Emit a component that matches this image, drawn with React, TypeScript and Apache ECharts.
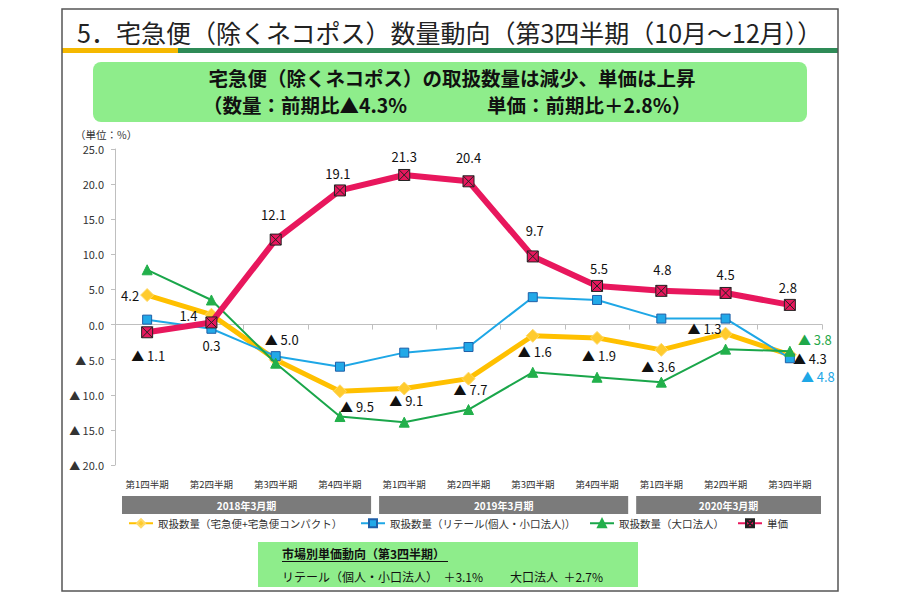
import React, { useEffect, useRef } from "react";
import * as echarts from "echarts";

const categories = [
  "第1四半期", "第2四半期", "第3四半期", "第4四半期",
  "第1四半期", "第2四半期", "第3四半期", "第4四半期",
  "第1四半期", "第2四半期", "第3四半期",
];
const fiscalGroups = ["2018年3月期", "2019年3月期", "2020年3月期"];
const groupSizes = [4, 4, 3];

const totalVolume = [4.2, 1.4, -5.0, -9.5, -9.1, -7.7, -1.6, -1.9, -3.6, -1.3, -4.3];
const retailVolume = [0.7, -0.6, -4.5, -6.0, -4.0, -3.2, 3.9, 3.5, 0.85, 0.85, -4.8];
const corporateVolume = [7.8, 3.5, -5.5, -13.1, -13.9, -12.1, -6.8, -7.5, -8.2, -3.5, -3.8];
const unitPrice = [-1.1, 0.3, 12.1, 19.1, 21.3, 20.4, 9.7, 5.5, 4.8, 4.5, 2.8];

const seriesNames = [
  "取扱数量（宅急便+宅急便コンパクト）",
  "取扱数量（リテール(個人・小口法人)）",
  "取扱数量（大口法人）",
  "単価",
];

const yTicks = { min: -20, max: 25, interval: 5 };

// label offsets (style only): [dx, dy] from the point, null = hidden
const totalLabelOffsets: (number[] | null)[] = [
  [-17, 0], [-23, 1], [6, -20], [17, 15], [2, 12], [2, 11], [2, 16], [2, 18], [-3, 17], [-21, -5], [20, 4],
];
const retailLabelOffsets: (number[] | null)[] = [null, null, null, null, null, null, null, null, null, null, [28, 18]];
const corporateLabelOffsets: (number[] | null)[] = [null, null, null, null, null, null, null, null, null, null, [25, -12]];
const priceLabelOffsets: (number[] | null)[] = [
  [1, 23], [0, 23], [-2, -25], [-2, -17], [0, -18], [0, -24], [2, -26], [2, -17], [1, -21], [0, -18], [-2, -17],
];

const FONT = '"Noto Sans CJK JP", "Noto Sans", sans-serif';
const fmt = (v: number) => (v < 0 ? `▲ ${Math.abs(v).toFixed(1)}` : v.toFixed(1));

function buildData(values: number[], offsets: (number[] | null)[], color: string) {
  return values.map((v, i) => {
    const off = offsets[i];
    return {
      value: v,
      label: off
        ? {
            show: true,
            position: "inside",
            offset: off,
            color,
            fontSize: 13,
            fontFamily: FONT,
            textBorderWidth: 0,
            formatter: () => fmt(v),
          }
        : { show: false },
    };
  });
}

const X_SYMBOL = "path://M0,0H10V10H0Z M0,0L10,10 M10,0L0,10";

export default function App() {
  const ref = useRef<HTMLDivElement>(null);
  useEffect(() => {
    if (!ref.current) return;
    const chart = echarts.init(ref.current, undefined, { renderer: "svg" });
    const gridLeft = 115;
    const gridRight = 78;
    const gridTop = 149;
    const gridBottom = 136;
    const legendText = { fontSize: 10.5, color: "#333", fontFamily: FONT };
    const legendCommon = { top: 518, itemWidth: 24, itemHeight: 10, padding: 0, itemGap: 0, textStyle: legendText };

    chart.setOption({
      animation: false,
      backgroundColor: "#ffffff",
      grid: {
        left: gridLeft, right: gridRight, top: gridTop, bottom: gridBottom,
        containLabel: false, outerBoundsMode: "none",
      },
      legend: [
        { ...legendCommon, left: 128, data: [seriesNames[0]] },
        { ...legendCommon, left: 360, data: [seriesNames[1]] },
        { ...legendCommon, left: 589, data: [seriesNames[2]] },
        { ...legendCommon, left: 737, data: [seriesNames[3]] },
      ],
      xAxis: {
        type: "category",
        data: categories,
        boundaryGap: true,
        axisLine: { show: true, onZero: true, lineStyle: { color: "#bfbfbf", width: 1 } },
        axisTick: { show: true, length: 5, lineStyle: { color: "#bfbfbf" } },
        axisLabel: { margin: 14, fontSize: 9.5, color: "#333", fontFamily: FONT, interval: 0 },
        splitLine: { show: false },
      },
      yAxis: {
        type: "value",
        min: yTicks.min,
        max: yTicks.max,
        interval: yTicks.interval,
        axisLine: { show: true, lineStyle: { color: "#bfbfbf" } },
        axisTick: { show: true, length: 4, lineStyle: { color: "#bfbfbf" } },
        axisLabel: { margin: 11, fontSize: 11, color: "#333", fontFamily: FONT, formatter: (v: number) => fmt(v) },
        splitLine: { show: false },
      },
      series: [
        {
          name: seriesNames[0],
          type: "line",
          data: buildData(totalVolume, totalLabelOffsets, "#111"),
          symbol: "diamond",
          symbolSize: 13,
          itemStyle: { color: "#ffcb2e", borderColor: "#ffd966", borderWidth: 1 },
          lineStyle: { color: "#ffc000", width: 5 },
          z: 2,
        },
        {
          name: seriesNames[1],
          type: "line",
          data: buildData(retailVolume, retailLabelOffsets, "#1ea7e6"),
          symbol: "rect",
          symbolSize: 9,
          itemStyle: { color: "#22a9e8", borderColor: "#1f5fa8", borderWidth: 1 },
          lineStyle: { color: "#1ea7e6", width: 2 },
          z: 3,
        },
        {
          name: seriesNames[2],
          type: "line",
          data: buildData(corporateVolume, corporateLabelOffsets, "#1fa84a"),
          symbol: "triangle",
          symbolSize: 10,
          itemStyle: { color: "#22b04b", borderColor: "#22b04b", borderWidth: 1 },
          lineStyle: { color: "#1aa64a", width: 2 },
          z: 4,
        },
        {
          name: seriesNames[3],
          type: "line",
          data: buildData(unitPrice, priceLabelOffsets, "#111"),
          symbol: X_SYMBOL,
          symbolSize: 11,
          itemStyle: { color: "#e8175d", borderColor: "#222", borderWidth: 1 },
          lineStyle: { color: "#e8175d", width: 6 },
          z: 5,
        },
      ],
    });

    // group bars under category labels, placed via the axis scale
    const half = (chart.convertToPixel({ xAxisIndex: 0 }, 1) as number) - (chart.convertToPixel({ xAxisIndex: 0 }, 0) as number);
    const groupEls: any[] = [];
    let start = 0;
    fiscalGroups.forEach((g, gi) => {
      const first = chart.convertToPixel({ xAxisIndex: 0 }, start) as number;
      const last = chart.convertToPixel({ xAxisIndex: 0 }, start + groupSizes[gi] - 1) as number;
      const x0 = first - half / 2 + 7;
      const x1 = last + half / 2 - 1;
      groupEls.push({
        type: "rect",
        shape: { x: x0, y: 496, width: x1 - x0, height: 18 },
        style: { fill: "#7b7b7b" },
      });
      groupEls.push({
        type: "text",
        x: (x0 + x1) / 2,
        y: 505,
        style: {
          text: g, fill: "#fff", fontSize: 10, fontWeight: "bold", fontFamily: FONT,
          align: "center", verticalAlign: "middle",
        },
      });
      start += groupSizes[gi];
    });

    chart.setOption({
      graphic: {
        elements: [
          { type: "rect", shape: { x: 62, y: 9, width: 776, height: 582 }, style: { fill: "none", stroke: "#555", lineWidth: 1.5 }, z: 100 },
          {
            type: "text", x: 77, y: 32,
            style: { text: "5．宅急便（除くネコポス）数量動向（第3四半期（10月～12月））", fontSize: 25, fill: "#222", fontFamily: FONT, verticalAlign: "middle" },
          },
          { type: "rect", shape: { x: 62, y: 48, width: 116, height: 5 }, style: { fill: "#f5b800" } },
          { type: "rect", shape: { x: 178, y: 48, width: 660, height: 5 }, style: { fill: "#2e8b57" } },
          { type: "rect", shape: { x: 93, y: 62, width: 714, height: 60, r: 8 }, style: { fill: "#8eed8b" } },
          {
            type: "text", x: 452, y: 77,
            style: { text: "宅急便（除くネコポス）の取扱数量は減少、単価は上昇", fontSize: 19.5, fontWeight: "bold", fill: "#111", fontFamily: FONT, align: "center", verticalAlign: "middle" },
          },
          {
            type: "text", x: 203, y: 104,
            style: { text: "（数量：前期比▲4.3%", fontSize: 19.5, fontWeight: "bold", fill: "#111", fontFamily: FONT, verticalAlign: "middle" },
          },
          {
            type: "text", x: 487, y: 104,
            style: { text: "単価：前期比＋2.8%）", fontSize: 19.5, fontWeight: "bold", fill: "#111", fontFamily: FONT, verticalAlign: "middle" },
          },
          {
            type: "text", x: 75, y: 134,
            style: { text: "（単位：%）", fontSize: 10.5, fill: "#333", fontFamily: FONT, verticalAlign: "middle" },
          },
          ...groupEls,
          { type: "rect", shape: { x: 258, y: 542, width: 380, height: 45 }, style: { fill: "#8eed8b" } },
          {
            type: "text", x: 282, y: 553,
            style: { text: "市場別単価動向（第3四半期）", fontSize: 12, fontWeight: "bold", fill: "#111", fontFamily: FONT, verticalAlign: "middle" },
          },
          { type: "rect", shape: { x: 282, y: 561, width: 166, height: 1 }, style: { fill: "#111" } },
          {
            type: "text", x: 282, y: 576,
            style: { text: "リテール（個人・小口法人）  ＋3.1%", fontSize: 12, fill: "#111", fontFamily: FONT, verticalAlign: "middle" },
          },
          {
            type: "text", x: 510, y: 576,
            style: { text: "大口法人  ＋2.7%", fontSize: 12, fill: "#111", fontFamily: FONT, verticalAlign: "middle" },
          },
        ],
      },
    });

    return () => chart.dispose();
  }, []);
  return <div ref={ref} style={{ position: "absolute", left: 0, top: 0, width: 900, height: 601 }} />;
}
